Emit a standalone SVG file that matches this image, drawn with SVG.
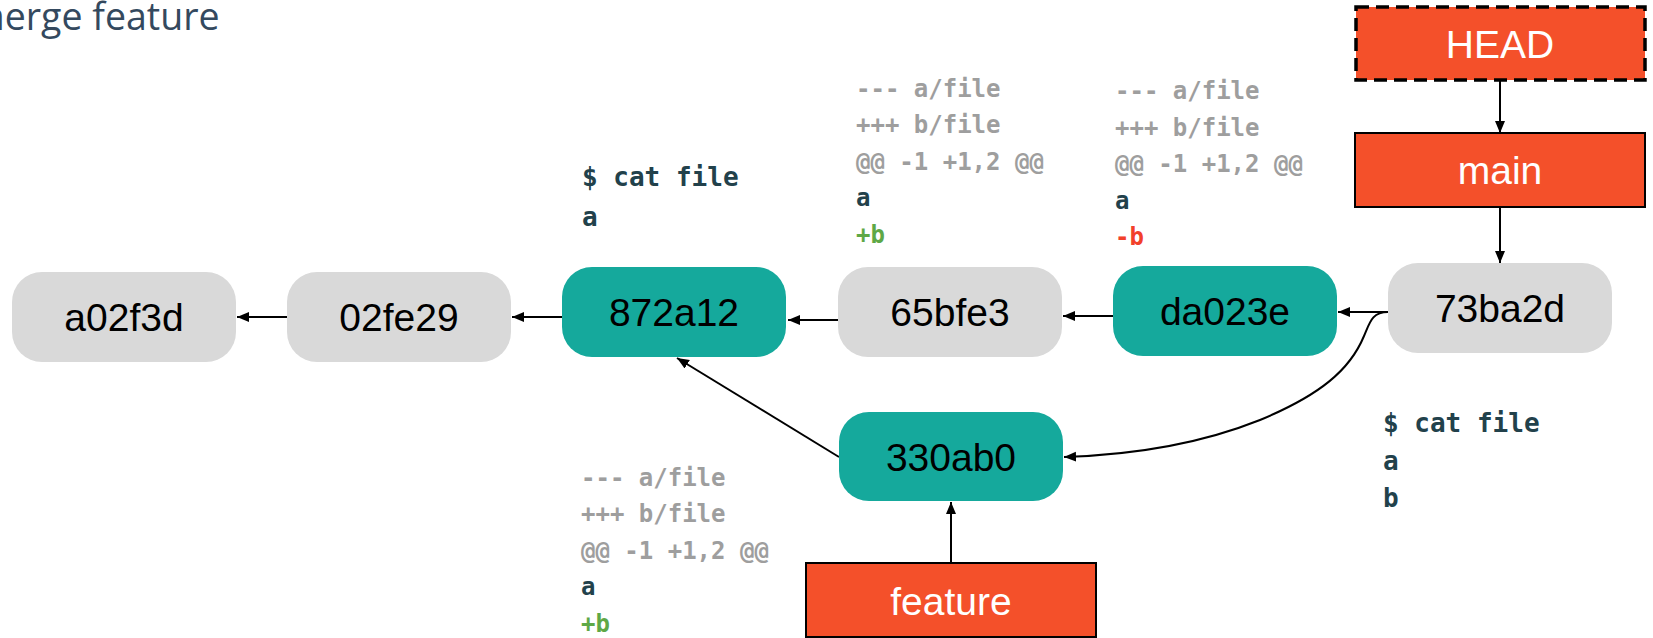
<svg xmlns="http://www.w3.org/2000/svg" width="1653" height="638" viewBox="0 0 1653 638">
<style>
  .commit { fill: #d9d9d9; }
  .teal { fill: #15a99c; }
  .ref { fill: #f4502a; stroke: #000; stroke-width: 2; }
  .head { fill: #f4502a; stroke: #000; stroke-width: 3.5; stroke-dasharray: 13 7; }
  .lbl { font-family: "Liberation Sans", Arial, sans-serif; font-size: 39px; text-anchor: middle; fill: #000; }
  .rlbl { font-family: "Liberation Sans", Arial, sans-serif; font-size: 39px; text-anchor: middle; fill: #fff; }
  .mono { font-family: "DejaVu Sans Mono", "Liberation Mono", monospace; font-weight: bold; font-size: 24px; }
  .cat { font-family: "DejaVu Sans Mono", "Liberation Mono", monospace; font-weight: bold; font-size: 26px; fill: #22414b; }
  .g { fill: #9e9e9e; }
  .d { fill: #22414b; }
  .plus { fill: #5ea846; }
  .minus { fill: #f2402a; }
  .conn { stroke: #000; stroke-width: 2; fill: none; marker-end: url(#arr); }
  .title { font-family: "Open Sans", "Noto Sans", sans-serif; font-size: 37.5px; fill: #34495e; }
</style>
<defs>
  <marker id="arr" markerUnits="userSpaceOnUse" markerWidth="14" markerHeight="12" refX="12" refY="5" orient="auto">
    <path d="M0,0 L12,5 L0,10 z" fill="#000"/>
  </marker>
</defs>

<text class="title" x="-30" y="30">merge feature</text>

<g id="connectors">
  <line class="conn" x1="287" y1="317" x2="237" y2="317"/>
  <line class="conn" x1="562" y1="317" x2="512" y2="317"/>
  <line class="conn" x1="838" y1="320" x2="788" y2="320"/>
  <line class="conn" x1="1113" y1="316" x2="1063" y2="316"/>
  <line class="conn" x1="1388" y1="312" x2="1338" y2="312"/>
  <path class="conn" d="M1388,312 C1372,312 1370,322 1364,336 C1350,370 1320,395 1260,420 C1200,444 1130,455 1064,457"/>
  <line class="conn" x1="839" y1="457" x2="677" y2="358"/>
  <line class="conn" x1="1500" y1="81" x2="1500" y2="133"/>
  <line class="conn" x1="1500" y1="207" x2="1500" y2="263"/>
  <line class="conn" x1="951" y1="563" x2="951" y2="502"/>
</g>

<g id="a02f3d">
  <rect class="commit" x="12" y="272" width="224" height="90" rx="30"/>
  <text class="lbl" x="124" y="331">a02f3d</text>
</g>
<g id="02fe29">
  <rect class="commit" x="287" y="272" width="224" height="90" rx="30"/>
  <text class="lbl" x="399" y="331">02fe29</text>
</g>
<g id="872a12">
  <rect class="teal" x="562" y="267" width="224" height="90" rx="30"/>
  <text class="lbl" x="674" y="326">872a12</text>
</g>
<g id="65bfe3">
  <rect class="commit" x="838" y="267" width="224" height="90" rx="30"/>
  <text class="lbl" x="950" y="326">65bfe3</text>
</g>
<g id="da023e">
  <rect class="teal" x="1113" y="266" width="224" height="90" rx="30"/>
  <text class="lbl" x="1225" y="325">da023e</text>
</g>
<g id="73ba2d">
  <rect class="commit" x="1388" y="263" width="224" height="90" rx="30"/>
  <text class="lbl" x="1500" y="322">73ba2d</text>
</g>
<g id="330ab0">
  <rect class="teal" x="839" y="412" width="224" height="89" rx="30"/>
  <text class="lbl" x="951" y="471">330ab0</text>
</g>
<g id="HEAD">
  <rect class="head" x="1356" y="7" width="289" height="73"/>
  <text class="rlbl" x="1500" y="58">HEAD</text>
</g>
<g id="main">
  <rect class="ref" x="1355" y="133" width="290" height="74"/>
  <text class="rlbl" x="1500" y="184">main</text>
</g>
<g id="feature">
  <rect class="ref" x="806" y="563" width="290" height="74"/>
  <text class="rlbl" x="951" y="615">feature</text>
</g>

<g id="cat-872a12">
  <text class="cat" x="582" y="186">$ cat file</text>
  <text class="cat" x="582" y="226">a</text>
</g>
<g id="cat-73ba2d">
  <text class="cat" x="1383" y="432">$ cat file</text>
  <text class="cat" x="1383" y="470">a</text>
  <text class="cat" x="1383" y="507">b</text>
</g>
<g id="diff-65bfe3" class="mono">
  <text class="g" x="856" y="96.5">--- a/file</text>
  <text class="g" x="856" y="133">+++ b/file</text>
  <text class="g" x="856" y="169.5">@@ -1 +1,2 @@</text>
  <text class="d" x="856" y="206">a</text>
  <text class="plus" x="856" y="242.5">+b</text>
</g>
<g id="diff-da023e" class="mono">
  <text class="g" x="1115" y="99">--- a/file</text>
  <text class="g" x="1115" y="135.5">+++ b/file</text>
  <text class="g" x="1115" y="172">@@ -1 +1,2 @@</text>
  <text class="d" x="1115" y="208.5">a</text>
  <text class="minus" x="1115" y="245">-b</text>
</g>
<g id="diff-330ab0" class="mono">
  <text class="g" x="581" y="486">--- a/file</text>
  <text class="g" x="581" y="522.4">+++ b/file</text>
  <text class="g" x="581" y="558.8">@@ -1 +1,2 @@</text>
  <text class="d" x="581" y="595.2">a</text>
  <text class="plus" x="581" y="631.6">+b</text>
</g>
</svg>
